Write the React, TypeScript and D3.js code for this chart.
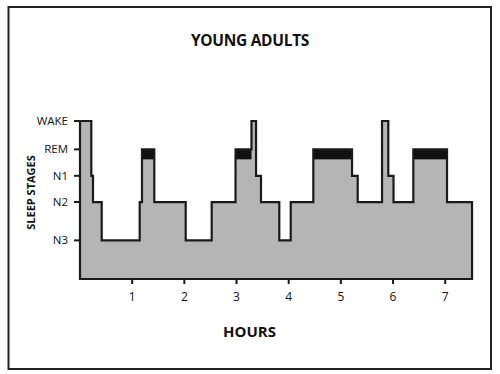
import React from "react";
import * as d3 from "d3";

// ---- data ----
const stageNames = ["WAKE", "REM", "N1", "N2", "N3"];
const stageDepth = [0, 1.05, 2.03, 3, 4.42]; // vertical position of each stage (depth units)
const segmentStarts = [0, 0.217, 0.249, 0.416, 1.144, 1.188, 1.424, 2.026, 2.524, 2.981, 3.287, 3.374, 3.469, 3.82, 4.039, 4.472, 5.214, 5.323, 5.789, 5.909, 6.009, 6.389, 7.035];
const segmentStages = ["WAKE", "N1", "N2", "N3", "N2", "REM", "N2", "N3", "N2", "REM", "WAKE", "N1", "N2", "N3", "N2", "REM", "N1", "N2", "WAKE", "N1", "N2", "REM", "N2"];
const endHour = 7.514;
const hourTicks = [1, 2, 3, 4, 5, 6, 7];
const titleText = "YOUNG ADULTS";
const xTitle = "HOURS";
const yTitle = "SLEEP STAGES";

const W = 500;
const H = 374;

export default function App() {
  const x = d3.scaleLinear().domain([0, 7.5]).range([80, 471.3]);
  const y = d3.scaleLinear().domain([0, 5.85]).range([121, 279]);
  const depthOf = (s: string) => stageDepth[stageNames.indexOf(s)];

  const segs = segmentStarts.map((s, i) => ({
    start: s,
    end: i + 1 < segmentStarts.length ? segmentStarts[i + 1] : endHour,
    stage: segmentStages[i],
  }));

  const pts: [number, number][] = [];
  segs.forEach((d) => {
    pts.push([d.start, depthOf(d.stage)]);
    pts.push([d.end, depthOf(d.stage)]);
  });
  const area = d3
    .area<[number, number]>()
    .x((d) => x(d[0]))
    .y0(y(5.85))
    .y1((d) => y(d[1]));
  const areaPath = area(pts) || "";

  const remBand = 0.37;
  const font = "'Open Sans', 'DejaVu Sans', sans-serif";

  return (
    <svg width={W} height={H} style={{ position: "absolute", left: 0, top: 0, background: "#fff" }}>
      <rect x={8.5} y={7} width={482.5} height={362} fill="#fff" stroke="#222" strokeWidth={2} />
      <text x={250} y={46} textAnchor="middle" fontFamily={font} fontWeight={700} fontSize={15.5} letterSpacing={-0.3} fill="#111">
        {titleText}
      </text>
      <path d={areaPath} fill="#b5b5b5" stroke="none" />
      {segs
        .filter((d) => d.stage === "REM")
        .map((d, i) => (
          <rect
            key={i}
            x={x(d.start)}
            y={y(depthOf("REM"))}
            width={x(d.end) - x(d.start)}
            height={y(depthOf("REM") + remBand) - y(depthOf("REM"))}
            fill="#111"
          />
        ))}
      <path d={areaPath} fill="none" stroke="#1a1a1a" strokeWidth={2.2} strokeLinejoin="miter" />
      {stageNames.map((s) => (
        <g key={s}>
          <line x1={74} x2={80} y1={y(depthOf(s))} y2={y(depthOf(s))} stroke="#1a1a1a" strokeWidth={2} />
          <text x={68} y={y(depthOf(s))} dy="0.35em" textAnchor="end" fontFamily={font} fontSize={11.5} fill="#111">
            {s}
          </text>
        </g>
      ))}
      {hourTicks.map((t) => (
        <g key={t}>
          <line x1={x(t)} x2={x(t)} y1={279} y2={284} stroke="#1a1a1a" strokeWidth={2} />
          <text x={x(t)} y={301} textAnchor="middle" fontFamily={font} fontSize={12} fill="#111">
            {t}
          </text>
        </g>
      ))}
      <text x={249.5} y={337} textAnchor="middle" fontFamily={font} fontWeight={700} fontSize={15} fill="#111">
        {xTitle}
      </text>
      <text
        transform={`translate(34.5,192.5) rotate(-90)`}
        textAnchor="middle"
        fontFamily={font}
        fontWeight={700}
        fontSize={11}
        fill="#111"
      >
        {yTitle}
      </text>
    </svg>
  );
}
